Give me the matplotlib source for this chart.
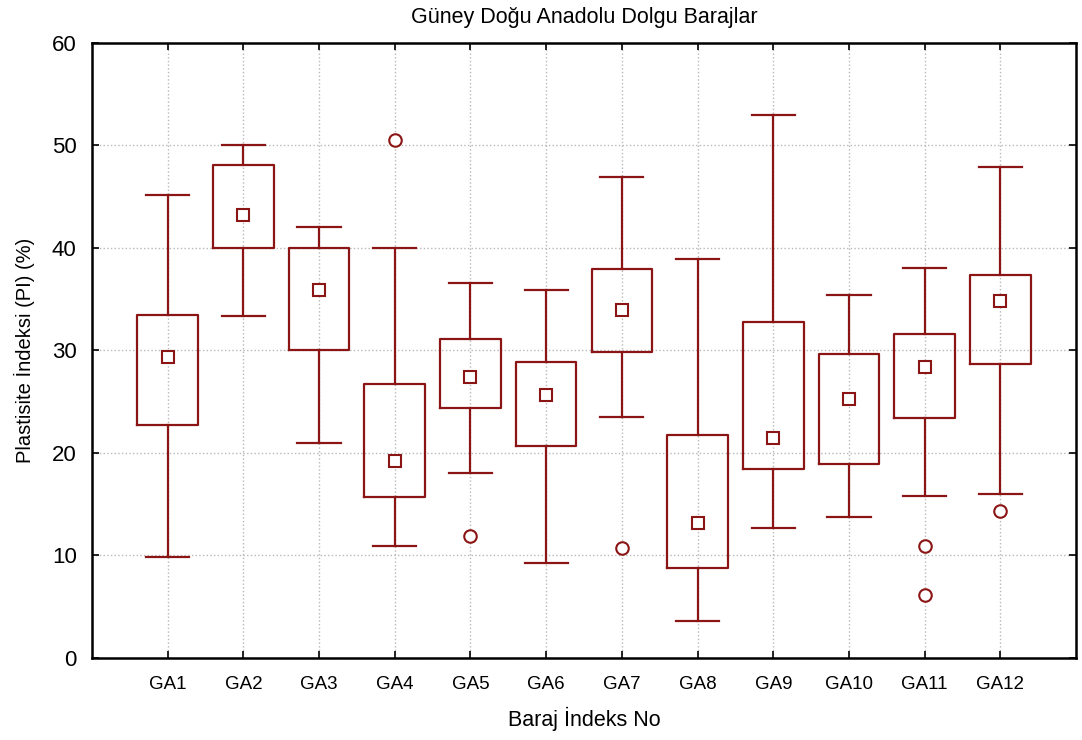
import matplotlib.pyplot as plt
import matplotlib.ticker as mticker

plt.rcParams['font.family'] = ['Liberation Sans', 'DejaVu Sans']

labels = ["GA1", "GA2", "GA3", "GA4", "GA5", "GA6",
          "GA7", "GA8", "GA9", "GA10", "GA11", "GA12"]
whisker_low = [9.8, 33.4, 21.0, 10.9, 18.0, 9.3, 23.5, 3.6, 12.7, 13.7, 15.8, 16.0]
q1 = [22.7, 40.0, 30.0, 15.7, 24.4, 20.7, 29.8, 8.8, 18.4, 18.9, 23.4, 28.7]
medians = [29.4, 43.2, 35.9, 19.2, 27.4, 25.6, 33.9, 13.2, 21.5, 25.3, 28.4, 34.8]
q3 = [33.5, 48.1, 40.0, 26.7, 31.1, 28.9, 37.9, 21.7, 32.8, 29.6, 31.6, 37.4]
whisker_high = [45.2, 50.0, 42.0, 40.0, 36.6, 35.9, 46.9, 38.9, 53.0, 35.4, 38.0, 47.9]
outliers = [[], [], [], [50.5], [11.9], [], [10.7], [], [], [], [10.9, 6.1], [14.3]]

color = "#8b1414"

stats = []
for i, name in enumerate(labels):
    stats.append({
        "label": name,
        "whislo": whisker_low[i],
        "q1": q1[i],
        "med": medians[i],
        "q3": q3[i],
        "whishi": whisker_high[i],
        "fliers": outliers[i],
    })

fig = plt.figure(figsize=(10.82, 7.40), dpi=100)
ax = fig.add_axes([0.085, 0.111, 0.9095, 0.831])

positions = list(range(1, len(labels) + 1))
ax.bxp(stats, positions=positions, widths=0.8, capwidths=0.57,
       boxprops=dict(color=color, linewidth=1.6),
       whiskerprops=dict(color=color, linewidth=1.6),
       capprops=dict(color=color, linewidth=1.6),
       medianprops=dict(linewidth=0),
       flierprops=dict(marker="o", markerfacecolor="white",
                       markeredgecolor=color, markersize=9, markeredgewidth=1.5))
ax.plot(positions, medians, "s", markerfacecolor="white", markeredgecolor=color,
        markersize=9, markeredgewidth=1.5, linestyle="none", zorder=5)

ax.set_xlim(0, 13)
ax.set_ylim(0, 60)
ax.set_xticks(positions)
ax.set_xticklabels(labels, fontsize=13.5)
ax.yaxis.set_major_locator(mticker.MultipleLocator(10))
ax.tick_params(direction="in", top=True, right=True, length=5, width=1.2)
ax.tick_params(axis="y", labelsize=16, pad=11)
ax.tick_params(axis="x", pad=13)

ax.grid(True, linestyle=":", color="#b8b8b8", linewidth=1)
ax.set_axisbelow(True)
for side in ax.spines.values():
    side.set_linewidth(1.8)

ax.set_title("Güney Doğu Anadolu Dolgu Barajlar", fontsize=15.5, pad=14)
ax.set_xlabel("Baraj İndeks No", fontsize=15.5, labelpad=10)
ax.set_ylabel("Plastisite İndeksi (PI) (%)", fontsize=14.5, labelpad=12)

fig.savefig("out.png", dpi=100)
